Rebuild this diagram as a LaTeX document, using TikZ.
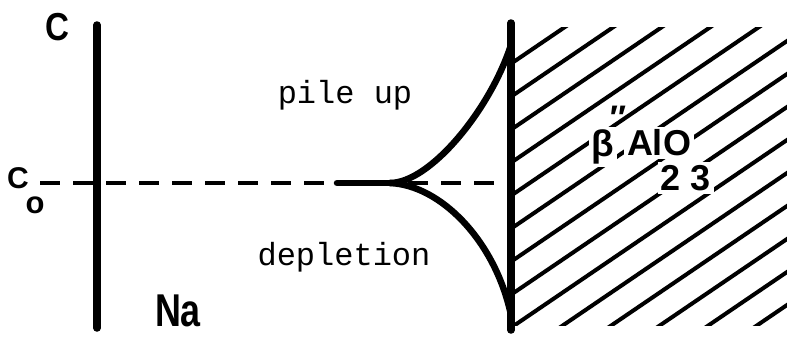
\documentclass[tikz,border=0pt]{standalone}
\usepackage{fontspec}
\setsansfont{Liberation Sans}
\setmonofont{Liberation Mono}
\usepackage{tikz}
\usetikzlibrary{calc}

\begin{document}
\begin{tikzpicture}[x=1pt, y=-1pt,
    axis/.style={line width=7.5pt, line cap=round},
    profile/.style={line width=6.5pt, line cap=round},
    level/.style={line width=4pt, dash pattern=on 20pt off 13pt},
    hatch/.style={line width=4pt, line cap=round},
    lbl/.style={font=\sffamily\bfseries, inner sep=0pt},
    note/.style={font=\ttfamily\fontsize{32}{32}\selectfont, inner sep=0pt}
]
\useasboundingbox (0,0) rectangle (787,337);

% ---- AXES ----
\coordinate (lt) at (97,25);
\coordinate (lb) at (97,328);
\coordinate (rt) at (511,23);
\coordinate (rb) at (511,330);
\draw[axis] (lt) -- (lb);
\draw[axis] (rt) -- (rb);

% ---- C_o LEVEL ----
\coordinate (c0) at (40,183);
\coordinate (tail) at (337,183);
\coordinate (cusp) at (390,183);
\coordinate (c1) at (408,183);
\coordinate (wall) at (511,183);
\draw[level] (c0) -- (tail);
\draw[level] (c1) -- (wall);
\draw[profile] (tail) -- (cusp);

% pile up / depletion branches
\coordinate (top) at (511,45);
\coordinate (bot) at (511,315);
\draw[profile] (cusp) .. controls (430,183) and (490,110) .. (top);
\draw[profile] (cusp) .. controls (440,185) and (495,240) .. (bot);

% ---- HATCHED SOLID ----
\begin{scope}
\clip (512,28) rectangle (787,325);
\foreach \k in {0,...,13}
    \draw[hatch] (512,63+33*\k) -- ++(300,-204);
\end{scope}

% ---- LABELS ----
\node[lbl, font=\sffamily\bfseries\fontsize{39}{39}\selectfont, xscale=0.85] (cc) at (57,27) {C};
\node[lbl, font=\sffamily\bfseries\fontsize{30}{30}\selectfont] (cz) at (18,178) {C};
\node[lbl, font=\sffamily\bfseries\fontsize{31}{31}\selectfont] (co) at (35,205) {o};
\node[lbl, font=\sffamily\bfseries\fontsize{46}{46}\selectfont, xscale=0.78] (na) at (178,311) {Na};
\node[note] (pile) at (345,95) {pile up};
\node[note] (depl) at (344,257) {depletion};

\node[lbl, fill=white, inner sep=3pt, font=\sffamily\bfseries\fontsize{37}{37}\selectfont] (beta) at (603,147) {β};
\node[lbl, font=\sffamily\bfseries\fontsize{34}{34}\selectfont] (prime) at (618,118) {″};
\node[lbl, fill=white, inner sep=3pt, font=\sffamily\bfseries\fontsize{36}{36}\selectfont] (alo) at (659,143) {AlO};
\node[lbl, fill=white, inner sep=3pt, font=\sffamily\bfseries\fontsize{36}{36}\selectfont] (sub) at (686,178) {2 3};
\end{tikzpicture}
\end{document}
